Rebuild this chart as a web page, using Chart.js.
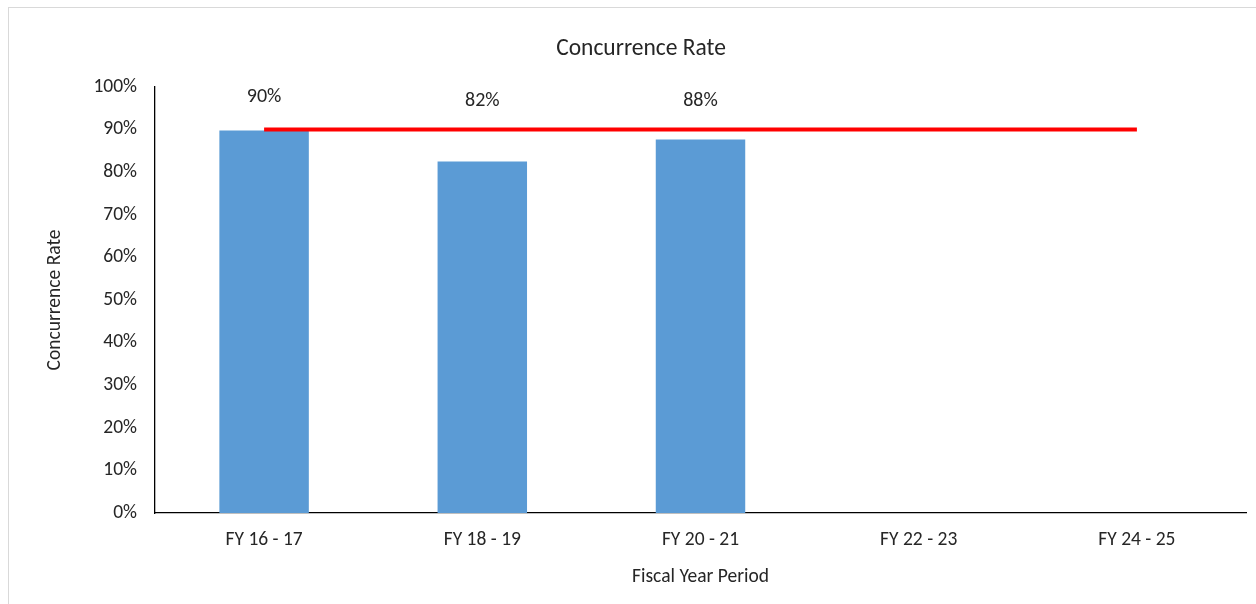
<!DOCTYPE html>
<html>
<head>
<meta charset="utf-8">
<script src="https://cdn.jsdelivr.net/npm/chart.js@4"></script>
<style>
  html, body { margin: 0; padding: 0; background: #fff; overflow: hidden; }
  #frame { position: absolute; left: 8px; top: 7px; width: 1400px; height: 800px; border: 1px solid #d9d9d9; box-sizing: border-box; }
  #wrap { position: absolute; left: 0; top: 0; width: 1256px; height: 604px; }
</style>
</head>
<body>
<div id="frame"></div>
<div id="wrap"><canvas id="c"></canvas></div>
<script>
const categories = ['FY 16 - 17', 'FY 18 - 19', 'FY 20 - 21', 'FY 22 - 23', 'FY 24 - 25'];
const concurrence = [89.8, 82.5, 87.7, null, null];
const target = [90, 90, 90, 90, 90];
const dataLabels = ['90%', '82%', '88%', '', ''];
const yTicks = [0, 10, 20, 30, 40, 50, 60, 70, 80, 90, 100];

const FONT = "Carlito, Lato, 'Open Sans', sans-serif";
const TEXT = '#262626';

const labelPlugin = {
  id: 'manualLabels',
  afterDatasetsDraw(chart, args, opts) {
    const ctx = chart.ctx;
    const x = chart.scales.x, y = chart.scales.y;
    ctx.save();
    ctx.font = opts.font;
    ctx.fillStyle = TEXT;
    ctx.textAlign = 'center';
    ctx.textBaseline = 'middle';
    dataLabels.forEach((t, i) => {
      if (!t) return;
      ctx.fillText(t, x.getPixelForValue(i), y.getPixelForValue(opts.anchors[i]));
    });
    ctx.restore();
  }
};

new Chart(document.getElementById('c'), {
  data: {
    labels: categories,
    datasets: [
      {
        type: 'line',
        data: target,
        borderColor: '#FF0000',
        borderWidth: 4,
        pointRadius: 0,
        pointHoverRadius: 0,
        fill: false,
        order: 0
      },
      {
        type: 'bar',
        data: concurrence,
        backgroundColor: '#5B9BD5',
        borderWidth: 0,
        barPercentage: 0.41,
        categoryPercentage: 1,
        order: 1
      }
    ]
  },
  plugins: [labelPlugin],
  options: {
    responsive: true,
    maintainAspectRatio: false,
    animation: false,
    events: [],
    layout: { padding: { left: 36, right: 10, top: 0, bottom: 0 } },
    plugins: {
      legend: { display: false },
      tooltip: { enabled: false },
      title: {
        display: true,
        text: 'Concurrence Rate',
        color: TEXT,
        font: { family: FONT, size: 23.5, weight: 'normal' },
        padding: { top: 34.8, bottom: 24 }
      },
      manualLabels: {
        font: "20px " + FONT,
        anchors: [97.7, 96.6, 96.6]
      }
    },
    scales: {
      x: {
        grid: { display: false, drawTicks: false },
        border: { display: true, color: '#000', width: 1.3 },
        ticks: { color: TEXT, font: { family: FONT, size: 19.5 }, padding: 15, maxRotation: 0 },
        title: {
          display: true,
          text: 'Fiscal Year Period',
          color: TEXT,
          font: { family: FONT, size: 19.5 },
          padding: { top: 8, bottom: 15 }
        },
        afterFit(s) { s.height = 91; }
      },
      y: {
        min: 0,
        max: 100,
        afterBuildTicks(s) { s.ticks = yTicks.map(v => ({ value: v })); },
        grid: { display: false, drawTicks: false },
        border: { display: true, color: '#000', width: 1.3 },
        ticks: {
          color: TEXT,
          font: { family: FONT, size: 19.5 },
          padding: 18,
          callback: v => v + '%'
        },
        title: {
          display: true,
          text: 'Concurrence Rate',
          color: TEXT,
          font: { family: FONT, size: 19.5 },
          padding: { top: 7.5, bottom: 4 }
        },
        afterFit(s) { s.width = 119; }
      }
    }
  }
});
</script>
</body>
</html>
